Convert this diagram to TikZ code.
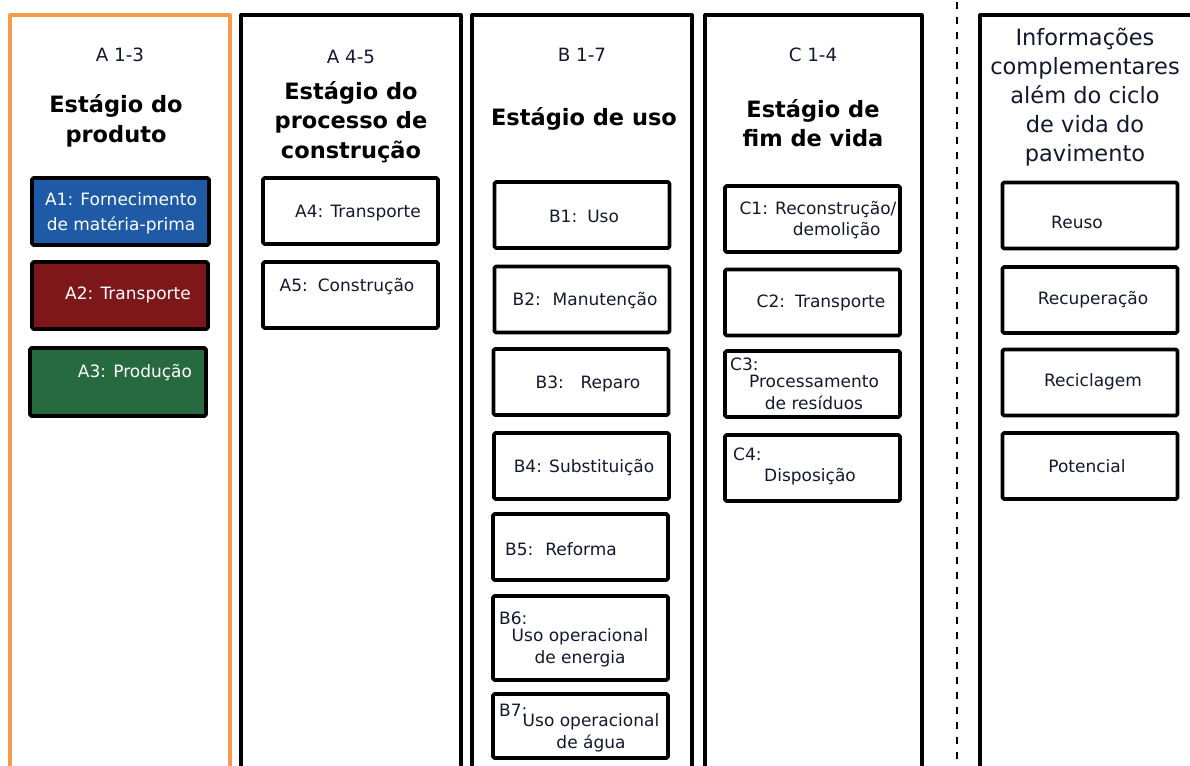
\documentclass[tikz,border=0pt]{standalone}
\usepackage{fontspec}
\setmainfont{DejaVu Sans}
\definecolor{laranja}{HTML}{F79A4E}
\definecolor{azul}{HTML}{1E5AA5}
\definecolor{vinho}{HTML}{7E171A}
\definecolor{verde}{HTML}{286A3F}
\definecolor{texto}{HTML}{14182E}
\begin{document}
\begin{tikzpicture}[line cap=round,line join=round,x=1pt,y=-1pt,
    coluna/.style={line width=3.2pt},
    caixa/.style={draw,line width=3.8pt,rounded corners=1.5pt,inner sep=0pt,minimum width=175pt,minimum height=66pt},
    txt/.style={font=\fontsize{17}{22}\selectfont,align=center,inner sep=0pt,text=texto},
    rot/.style={font=\fontsize{18.3}{21}\selectfont,inner sep=0pt,text=texto},
    tit/.style={font=\fontsize{22.5}{30}\selectfont\bfseries,align=center,inner sep=0pt}]
    \clip (0,0) rectangle (1190,765);
    % colunas
    \draw [coluna,color=laranja] (10,15) rectangle (230,800);
    \draw [coluna] (241,15) rectangle (461,800);
    \draw [coluna] (472,15) rectangle (692,800);
    \draw [coluna] (705,15) rectangle (922,800);
    \draw [coluna] (980,15) rectangle (1200,800);
    \draw [line width=2.2pt,dash pattern=on 7pt off 8pt,line cap=butt] (957,2) -- (957,765);
    % A 1-3
    \node [rot] (ra) at (120,55) {A 1-3};
    \node [tit] (ta) at (116,121) {Estágio do\\produto};
    \node [caixa,fill=azul,minimum width=177pt,minimum height=67pt] (a1) at (120.5,211.5) {};
    \node [txt,text=white,font=\fontsize{17}{25}\selectfont] (a1t) at (121,213) {A1: Fornecimento\\de matéria-prima};
    \node [caixa,fill=vinho,minimum width=176pt,minimum height=67pt] (a2) at (120,295.5) {};
    \node [txt,text=white] (a2t) at (128,295) {A2: Transporte};
    \node [caixa,fill=verde,minimum width=176pt,minimum height=68pt] (a3) at (118,382) {};
    \node [txt,text=white] (a3t) at (135,373) {A3: Produção};
    % A 4-5
    \node [rot] (rb) at (351,57) {A 4-5};
    \node [tit,font=\fontsize{22.5}{29.5}\selectfont\bfseries] (tb) at (351,122) {Estágio do\\processo de\\construção};
    \node [caixa] (a4) at (350.5,211) {};
    \node [txt] (a4t) at (358,213) {A4: Transporte};
    \node [caixa] (a5) at (350.5,295) {};
    \node [txt] (a5t) at (347,287) {A5:\, Construção};
    % B 1-7
    \node [rot] (rc) at (582,55) {B 1-7};
    \node [tit] (tc) at (584,119) {Estágio de uso};
    \node [caixa] (b1) at (582,215) {};
    \node [txt] (b1t) at (584,216) {B1:\, Uso};
    \node [caixa] (b2) at (582,299.5) {};
    \node [txt] (b2t) at (585,301) {B2:\; Manutenção};
    \node [caixa] (b3) at (581,382) {};
    \node [txt] (b3t) at (588,384) {B3:\;\; Reparo};
    \node [caixa] (b4) at (581.5,466) {};
    \node [txt] (b4t) at (584,468) {B4: Substituição};
    \node [caixa] (b5) at (580.5,547) {};
    \node [txt] (b5t) at (561,549) {B5:\; Reforma};
    \node [caixa,minimum height=84pt] (b6) at (580.5,638) {};
    \node [txt,anchor=west] (b6r) at (499,618) {B6:};
    \node [txt] (b6t) at (580,648) {Uso operacional\\de energia};
    \node [caixa,minimum height=64pt] (b7) at (580.5,726) {};
    \node [txt,anchor=west] (b7r) at (499,710) {B7:};
    \node [txt] (b7t) at (591,733) {Uso operacional\\de água};
    % C 1-4
    \node [rot] (rd) at (813,55) {C 1-4};
    \node [tit,font=\fontsize{22.5}{29}\selectfont\bfseries] (td) at (813,123) {Estágio de\\fim de vida};
    \node [caixa] (c1) at (812.5,219) {};
    \node [txt,font=\fontsize{17}{21}\selectfont] (c1t) at (818,220) {C1: Reconstrução/\\\hspace*{2.2em}demolição};
    \node [caixa] (c2) at (812.5,302.5) {};
    \node [txt] (c2t) at (821,303) {C2:\, Transporte};
    \node [caixa] (c3) at (812.5,384) {};
    \node [txt,anchor=west] (c3r) at (730,364) {C3:};
    \node [txt] (c3t) at (814,392) {Processamento\\de resíduos};
    \node [caixa] (c4) at (812.5,468) {};
    \node [txt,anchor=west] (c4r) at (733,454) {C4:};
    \node [txt] (c4t) at (810,477) {Disposição};
    % informacoes complementares
    \node [font=\fontsize{22.5}{29}\selectfont,align=center,inner sep=0pt,text=texto] (te) at (1085,97) {Informações\\complementares\\além do ciclo\\de vida do\\pavimento};
    \node [caixa] (e1) at (1090,215.5) {};
    \node [txt] (e1t) at (1077,222) {Reuso};
    \node [caixa] (e2) at (1090,300) {};
    \node [txt] (e2t) at (1093,300) {Recuperação};
    \node [caixa] (e3) at (1090,382.5) {};
    \node [txt] (e3t) at (1093,382) {Reciclagem};
    \node [caixa] (e4) at (1090,466) {};
    \node [txt] (e4t) at (1087,466) {Potencial};
\end{tikzpicture}
\end{document}
